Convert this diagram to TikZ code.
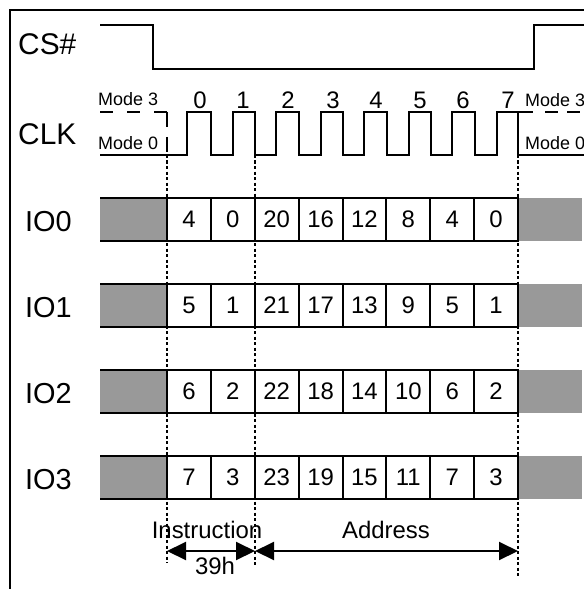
\documentclass[tikz,border=0pt]{standalone}
\usepackage{fontspec}
\setmainfont{Liberation Sans}
\usetikzlibrary{arrows.meta}
\definecolor{boxgray}{RGB}{153,153,153}
\begin{document}
\begin{tikzpicture}[x=1bp,y=-1bp,
  sig/.style={line width=2bp, line join=miter},
  frameline/.style={line width=1.5bp},
  guide/.style={line width=1.4bp, dash pattern=on 3bp off 2.5bp},
  biglbl/.style={font=\fontsize{30}{36}\selectfont, anchor=west, inner sep=0pt},
  iolbl/.style={font=\fontsize{29}{34}\selectfont, anchor=west, inner sep=0pt},
  modelbl/.style={font=\fontsize{18}{22}\selectfont, anchor=west, inner sep=0pt},
  numlbl/.style={font=\fontsize{24}{29}\selectfont, inner sep=0pt},
  txtlbl/.style={font=\fontsize{24}{29}\selectfont, inner sep=0pt},
  cellbox/.style={draw, line width=2bp, minimum width=43.875bp, minimum height=43bp,
    inner sep=0pt, outer sep=0pt, anchor=north west, font=\fontsize{24}{29}\selectfont},
  dimarrow/.style={line width=2bp,
    {Triangle[length=19bp,width=18bp]}-{Triangle[length=19bp,width=18bp]}},
]
\useasboundingbox (0,0) rectangle (584,589);

% frame
\draw[frameline] (600,10) -- (10,10) -- (10,600);

% labels
\node[biglbl] (lcs) at (18,44) {CS\#};
\node[biglbl] (lclk) at (18,134) {CLK};
\node[modelbl] (m3l) at (98,99) {Mode 3};
\node[modelbl] (m0l) at (98,143) {Mode 0};
\node[modelbl] (m3r) at (525,100) {Mode 3};
\node[modelbl] (m0r) at (525,143) {Mode 0};

% CS#
\draw[sig] (100,25) -- (153,25) -- (153,69) -- (534,69) -- (534,25) -- (600,25);

% CLK
\draw[line width=1.8bp, dash pattern=on 13bp off 14bp] (100,112) -- (167,112);
\draw[line width=1.8bp, dash pattern=on 15bp off 10bp] (167,112) -- (167,155);
\draw[sig] (100,155) -- (187,155) -- (187,112) -- (211,112) -- (211,155)
  -- (233,155) -- (233,112) -- (255,112) -- (255,155)
  -- (276,155) -- (276,112) -- (299,112) -- (299,155)
  -- (321,155) -- (321,112) -- (343,112) -- (343,155)
  -- (364,155) -- (364,112) -- (387,112) -- (387,155)
  -- (409,155) -- (409,112) -- (431,112) -- (431,155)
  -- (452,155) -- (452,112) -- (475,112) -- (475,155)
  -- (497,155) -- (497,112) -- (518,112) -- (518,155) -- (600,155);
\draw[sig] (518,112) -- (533,112);
\draw[line width=1.8bp, dash pattern=on 13bp off 9bp] (545,112) -- (600,112);

\foreach \n/\x in {0/200,1/243,2/288,3/333,4/376,5/420,6/463,7/508}
  \node[numlbl] (clk\n) at (\x,100) {\n};

% guides
\coordinate (g1t) at (167,155); \coordinate (g1b) at (167,563);
\coordinate (g2t) at (255,155); \coordinate (g2b) at (255,565);
\coordinate (g3t) at (518,155); \coordinate (g3b) at (518,577);
\draw[guide] (g1t) -- (g1b);
\draw[guide] (g2t) -- (g2b);
\draw[guide] (g3t) -- (g3b);

% IO rows
\foreach \r/\top/\vals in {0/198/{4,0,20,16,12,8,4,0},1/284/{5,1,21,17,13,9,5,1},
                           2/370/{6,2,22,18,14,10,6,2},3/456/{7,3,23,19,15,11,7,3}} {
  \pgfmathsetmacro{\bot}{\top+43}
  \pgfmathsetmacro{\mid}{\top+23.5}
  \node[iolbl] (io\r) at (25,\mid) {IO\r};
  \fill[boxgray] (100,\top) rectangle (167,\bot);
  \draw[line width=2bp] (100,\top) -- (167,\top) (100,\bot) -- (167,\bot);
  \fill[boxgray] (518,\top) rectangle (582,\bot);
  \foreach \v [count=\k from 0] in \vals {
    \pgfmathsetmacro{\cx}{167+43.875*\k}
    \node[cellbox] (c\r-\k) at (\cx,\top) {\v};
  }
}

% dimension arrows
\coordinate (a1) at (167,551);
\coordinate (a2) at (255,551);
\coordinate (a3) at (518,551);
\draw[dimarrow] (a1) -- (a2);
\draw[dimarrow] (a2) -- (a3);
\node[txtlbl] (tins) at (207,530) {Instruction};
\node[txtlbl] (t39) at (215,566) {39h};
\node[txtlbl] (tadr) at (386,530) {Address};
\end{tikzpicture}
\end{document}
